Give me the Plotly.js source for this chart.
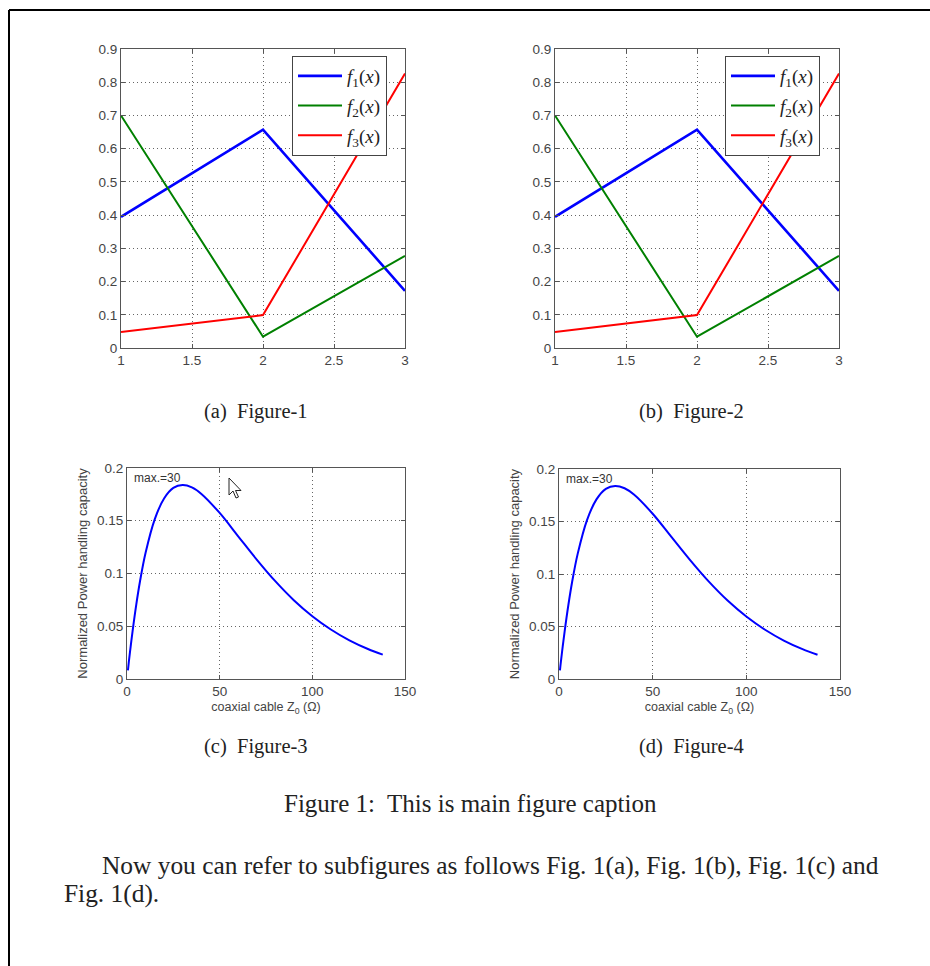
<!DOCTYPE html>
<html>
<head>
<meta charset="utf-8">
<script src="https://cdn.plot.ly/plotly-3.0.1.min.js"></script>
<style>
  html, body { margin: 0; padding: 0; background: #fff; }
  #chart { width: 930px; height: 966px; }
</style>
</head>
<body>
<div id="chart"></div>
<script>
// ---------- data ----------
const xTop = [1, 2, 3];
const f1 = [0.395, 0.657, 0.172];
const f2 = [0.700, 0.034, 0.277];
const f3 = [0.048, 0.099, 0.826];
const seriesNames = [
  '<i>f</i><sub>1</sub>(<i>x</i>)',
  '<i>f</i><sub>2</sub>(<i>x</i>)',
  '<i>f</i><sub>3</sub>(<i>x</i>)'
];
const seriesColors = ['#0000ff', '#008000', '#ff0000'];

const z0 = [0.5, 1, 2, 3, 5, 7, 10, 15, 20, 25, 30, 35, 40, 50, 60, 70, 80, 90, 100, 110, 120, 130, 138];
const power = [0.0082, 0.0164, 0.0312, 0.0452, 0.0705, 0.0924, 0.1194, 0.1516, 0.1711, 0.1811, 0.1839, 0.1817,
               0.1757, 0.1574, 0.1353, 0.1132, 0.0927, 0.0747, 0.0595, 0.0469, 0.0366, 0.0284, 0.0231];

const topXTicks = [1, 1.5, 2, 2.5, 3];
const topXTickText = ['1', '1.5', '2', '2.5', '3'];
const topYTicks = [0, 0.1, 0.2, 0.3, 0.4, 0.5, 0.6, 0.7, 0.8, 0.9];
const topYTickText = ['0', '0.1', '0.2', '0.3', '0.4', '0.5', '0.6', '0.7', '0.8', '0.9'];
const botXTicks = [0, 50, 100, 150];
const botXTickText = ['0', '50', '100', '150'];
const botYTicks = [0, 0.05, 0.1, 0.15, 0.2];
const botYTickText = ['0', '0.05', '0.1', '0.15', '0.2'];

const subCaptions = ['(a)  Figure-1', '(b)  Figure-2', '(c)  Figure-3', '(d)  Figure-4'];
const mainCaption = 'Figure 1:  This is main figure caption';
const paraLine1 = 'Now you can refer to subfigures as follows Fig. 1(a), Fig. 1(b), Fig. 1(c) and';
const paraLine2 = 'Fig. 1(d).';
const peakNote = 'max.=30';
const yTitleBottom = 'Normalized Power handling capacity';
const xTitleBottom = 'coaxial cable Z<sub>0</sub> (\u03A9)';

// ---------- helpers ----------
const W = 930, H = 966;
const px = x => x / W;
const py = y => 1 - y / H;

const sans = 'Liberation Sans, Arial, sans-serif';
const serif = 'Liberation Serif, Times New Roman, serif';
const tickFont = { family: sans, size: 13.5, color: '#444' };

function axis(extra) {
  return Object.assign({
    showline: true, mirror: 'ticks', linecolor: '#555', linewidth: 1,
    ticks: 'inside', ticklen: 4, tickcolor: '#555', tickwidth: 1,
    showgrid: true, gridcolor: '#666', griddash: '1px,3px', gridwidth: 1,
    zeroline: false, tickfont: tickFont, fixedrange: true
  }, extra);
}

// ---------- traces ----------
const traces = [];
const topSeries = [f1, f2, f3];
const widths = [2.6, 2, 2];
[['x', 'y', 'legend'], ['x2', 'y2', 'legend2']].forEach(([xa, ya, lg]) => {
  topSeries.forEach((s, i) => {
    traces.push({
      type: 'scatter', mode: 'lines', x: xTop, y: s, name: seriesNames[i],
      xaxis: xa, yaxis: ya, legend: lg, legendgroup: lg + i,
      line: { color: seriesColors[i], width: widths[i] }
    });
  });
});
[['x3', 'y3'], ['x4', 'y4']].forEach(([xa, ya]) => {
  traces.push({
    type: 'scatter', mode: 'lines', x: z0, y: power, showlegend: false,
    xaxis: xa, yaxis: ya, line: { color: '#0000ff', width: 2, shape: 'spline' }
  });
});

// ---------- layout ----------
const dA = { x: [px(121), px(405)], y: [py(348), py(49)] };
const dB = { x: [px(555), px(839)], y: [py(348), py(49)] };
const dC = { x: [px(127), px(405)], y: [py(679), py(468)] };
const dD = { x: [px(559), px(840)], y: [py(679), py(469)] };

const legendCommon = {
  xanchor: 'left', yanchor: 'top', bordercolor: '#444', borderwidth: 1, bgcolor: '#fff',
  font: { family: serif, size: 19, color: '#222' }, traceorder: 'grouped', tracegroupgap: 2,
  itemwidth: 44
};

const yTitle = { text: yTitleBottom, font: { family: sans, size: 13, color: '#444' }, standoff: 6 };
const xTitle = { text: xTitleBottom, font: { family: sans, size: 12.5, color: '#444' }, standoff: 4 };

// cursor arrow (pointer) in Fig-3
const tip = [229, 478];
const cur = [[0, 0], [0, 17], [4, 13], [7, 20], [9.5, 19], [6.5, 12.5], [12, 12.5]];
const cursorPath = cur.map((p, i) => (i ? 'L' : 'M') + px(tip[0] + p[0]) + ',' + py(tip[1] + p[1])).join(' ') + ' Z';

const captionFont = { family: serif, size: 20.5, color: '#222' };
const paperText = (x, y, text, font, xanchor) => ({
  xref: 'paper', yref: 'paper', x: px(x), y: py(y), xanchor: xanchor || 'center', yanchor: 'middle',
  text: text, showarrow: false, font: font
});

const layout = {
  width: W, height: H,
  margin: { l: 0, r: 0, t: 0, b: 0 },
  paper_bgcolor: '#fff', plot_bgcolor: '#fff',
  showlegend: true,
  xaxis: axis({ domain: dA.x, anchor: 'y', range: [1, 3], tickvals: topXTicks, ticktext: topXTickText }),
  yaxis: axis({ domain: dA.y, anchor: 'x', range: [0, 0.9], tickvals: topYTicks, ticktext: topYTickText }),
  xaxis2: axis({ domain: dB.x, anchor: 'y2', range: [1, 3], tickvals: topXTicks, ticktext: topXTickText }),
  yaxis2: axis({ domain: dB.y, anchor: 'x2', range: [0, 0.9], tickvals: topYTicks, ticktext: topYTickText }),
  xaxis3: axis({ domain: dC.x, anchor: 'y3', range: [0, 150], tickvals: botXTicks, ticktext: botXTickText, title: xTitle }),
  yaxis3: axis({ domain: dC.y, anchor: 'x3', range: [0, 0.2], tickvals: botYTicks, ticktext: botYTickText, title: yTitle }),
  xaxis4: axis({ domain: dD.x, anchor: 'y4', range: [0, 150], tickvals: botXTicks, ticktext: botXTickText, title: xTitle }),
  yaxis4: axis({ domain: dD.y, anchor: 'x4', range: [0, 0.2], tickvals: botYTicks, ticktext: botYTickText, title: yTitle }),
  legend: Object.assign({ x: px(292), y: py(56) }, legendCommon),
  legend2: Object.assign({ x: px(725), y: py(56) }, legendCommon),
  annotations: [
    { xref: 'x3', yref: 'y3', x: 2.8, y: 0.1905, xanchor: 'left', yanchor: 'middle', text: peakNote, showarrow: false, font: { family: sans, size: 12, color: '#333' } },
    { xref: 'x4', yref: 'y4', x: 2.8, y: 0.1905, xanchor: 'left', yanchor: 'middle', text: peakNote, showarrow: false, font: { family: sans, size: 12, color: '#333' } },
    paperText(256, 411, subCaptions[0], captionFont),
    paperText(691, 411, subCaptions[1], captionFont),
    paperText(256, 746, subCaptions[2], captionFont),
    paperText(691, 746, subCaptions[3], captionFont),
    paperText(470, 803, mainCaption, { family: serif, size: 25, color: '#222' }),
    paperText(100, 865, paraLine1, { family: serif, size: 25.4, color: '#222' }, 'left'),
    paperText(62, 893, paraLine2, { family: serif, size: 25.4, color: '#222' }, 'left')
  ],
  shapes: [
    { type: 'line', xref: 'paper', yref: 'paper', x0: px(9), y0: py(10), x1: px(930), y1: py(10), line: { color: '#000', width: 2 } },
    { type: 'line', xref: 'paper', yref: 'paper', x0: px(9), y0: py(10), x1: px(9), y1: py(966), line: { color: '#000', width: 2 } },
    { type: 'path', xref: 'paper', yref: 'paper', path: cursorPath, fillcolor: '#fff', line: { color: '#222', width: 1 } }
  ]
};

Plotly.newPlot('chart', traces, layout, { displayModeBar: false, staticPlot: true });
</script>
</body>
</html>
